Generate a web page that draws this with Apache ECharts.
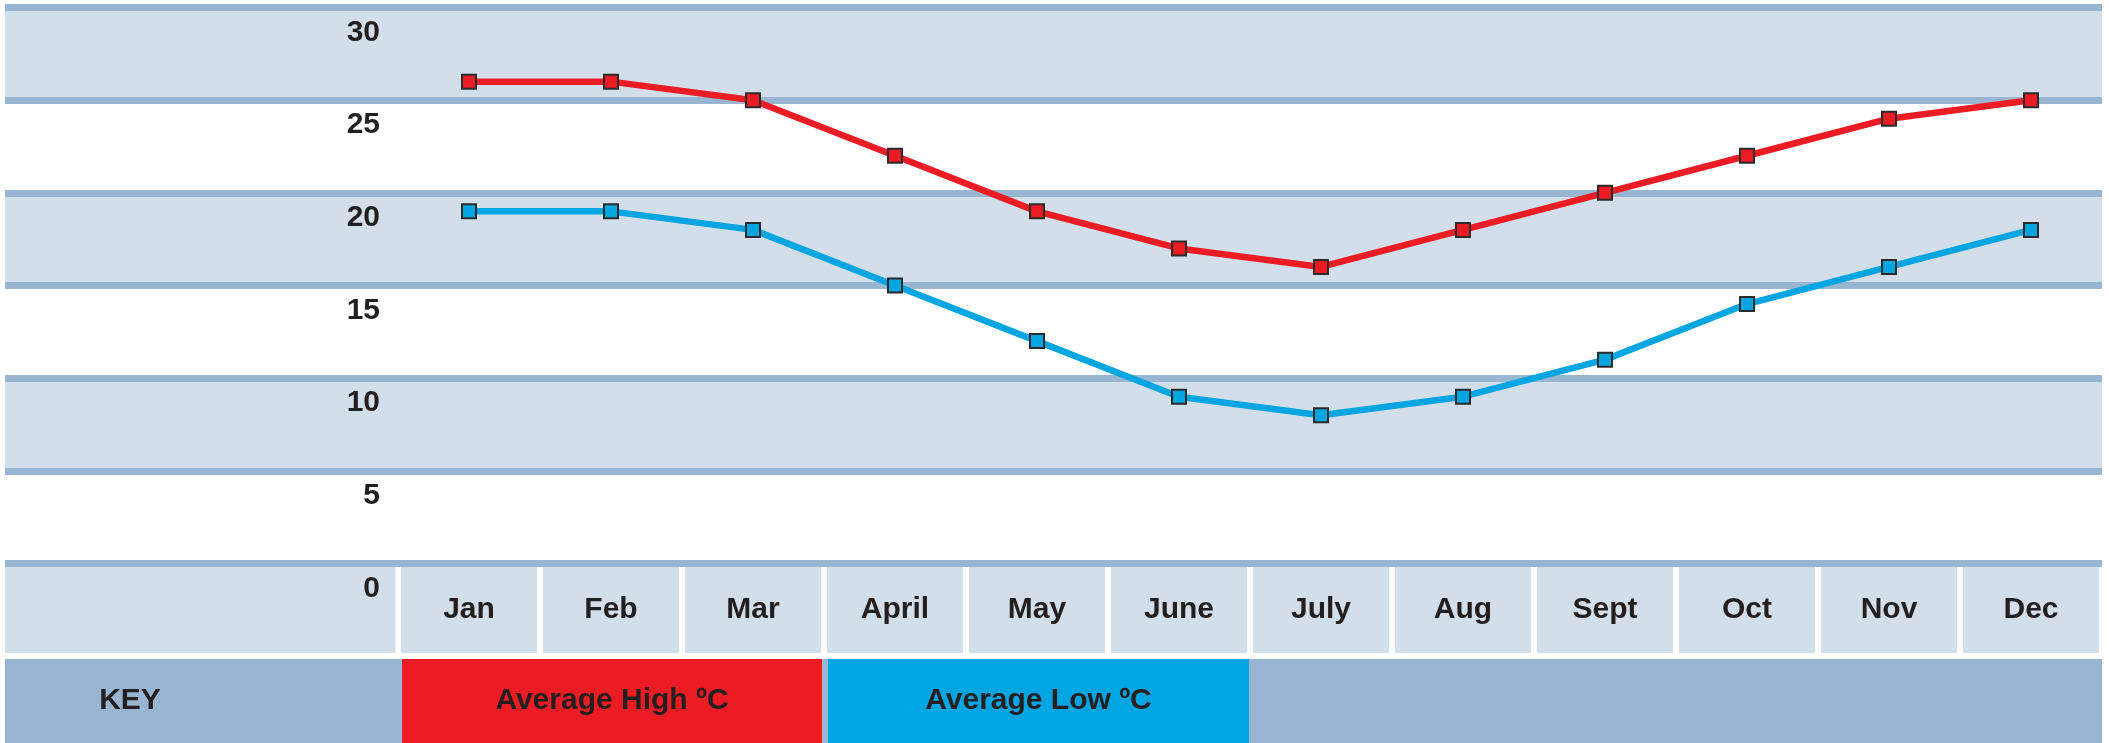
<!DOCTYPE html>
<html>
<head>
<meta charset="utf-8">
<script src="https://cdn.jsdelivr.net/npm/echarts@6/dist/echarts.min.js"></script>
<style>
html,body{margin:0;padding:0;background:#fff;}
#chart{width:2109px;height:743px;}
</style>
</head>
<body>
<div id="chart"></div>
<script>
const months = ['Jan','Feb','Mar','April','May','June','July','Aug','Sept','Oct','Nov','Dec'];
const avgHigh = [26,26,25,22,19,17,16,18,20,22,24,25];
const avgLow = [19,19,18,15,12,9,8,9,11,14,16,18];
const yMin = 0, yMax = 30, yStep = 5;
const seriesNames = ['Average High ºC', 'Average Low ºC'];
const keyLabel = 'KEY';

const FONT = '"Liberation Sans", Arial, sans-serif';
const TEXT = '#231f20';
const LIGHT = '#d2dee9';
const STEEL = '#98b6d1';
const RED = '#ed1c24';
const BLUE = '#00a5e1';

const chart = echarts.init(document.getElementById('chart'));
const gridBase = {top: 7.5, bottom: 179.5, right: 7, containLabel: false, outerBoundsMode: 'none'};
const option = {
  animation: false,
  backgroundColor: '#ffffff',
  grid: [
    Object.assign({left: 5}, gridBase),
    Object.assign({left: 398}, gridBase)
  ],
  xAxis: [
    {type: 'value', gridIndex: 0, show: false, min: 0, max: 1},
    {
      type: 'category', gridIndex: 1, data: months, boundaryGap: true,
      axisLine: {show: false}, axisTick: {show: false}, splitLine: {show: false},
      axisLabel: {
        interval: 0, margin: 46.5, verticalAlign: 'middle', align: 'center',
        fontSize: 30, fontWeight: 'bold', color: TEXT, fontFamily: FONT,
        backgroundColor: LIGHT, width: 136, height: 86, lineHeight: 86
      }
    }
  ],
  yAxis: [
    {
      type: 'value', gridIndex: 0, min: yMin, max: yMax, interval: yStep,
      axisLine: {show: false}, axisTick: {show: false},
      splitLine: {show: true, showMinLine: true, showMaxLine: true, lineStyle: {color: STEEL, width: 7}},
      splitArea: {show: true, areaStyle: {color: ['#ffffff', LIGHT]}},
      axisLabel: {
        showMinLabel: true, showMaxLabel: true,
        align: 'right', margin: -375, verticalAlign: 'top', lineHeight: 50,
        fontSize: 30, fontWeight: 'bold', color: TEXT, fontFamily: FONT
      }
    },
    {type: 'value', gridIndex: 1, min: yMin, max: yMax, interval: yStep, show: false,
     splitLine: {show: false}}
  ],
  legend: {
    left: 397, top: 659, padding: 0, itemGap: 1, itemWidth: 0, itemHeight: 84,
    icon: 'rect', selectedMode: false,
    itemStyle: {color: 'transparent', borderWidth: 0, opacity: 0},
    lineStyle: {width: 0, opacity: 0},
    data: seriesNames,
    formatter: function (name) { return '{' + (name === seriesNames[0] ? 'h' : 'l') + '|' + name + '}'; },
    textStyle: {
      fontSize: 30, fontWeight: 'bold', color: TEXT, fontFamily: FONT,
      rich: {
        h: {backgroundColor: RED, width: 420, height: 84, lineHeight: 84, align: 'center',
            fontSize: 30, fontWeight: 'bold', color: TEXT, fontFamily: FONT},
        l: {backgroundColor: BLUE, width: 421, height: 84, lineHeight: 84, align: 'center',
            fontSize: 30, fontWeight: 'bold', color: TEXT, fontFamily: FONT}
      }
    }
  },
  graphic: [
    {type: 'rect', z: -10, shape: {x: 5, y: 567, width: 390.5, height: 86}, style: {fill: LIGHT}},
    {type: 'rect', z: -10, shape: {x: 5, y: 659, width: 2097, height: 84}, style: {fill: STEEL}},
    {type: 'text', z: 10, x: 130, y: 701,
     style: {text: keyLabel, fill: TEXT, font: 'bold 30px ' + FONT, textAlign: 'center', textVerticalAlign: 'middle'}}
  ],
  series: [
    {
      name: seriesNames[0], type: 'line', xAxisIndex: 1, yAxisIndex: 1, data: avgHigh,
      symbol: 'rect', symbolSize: 14, showAllSymbol: true,
      lineStyle: {color: RED, width: 6.5},
      itemStyle: {color: RED, borderColor: '#2b2b2b', borderWidth: 2},
      emphasis: {disabled: true}
    },
    {
      name: seriesNames[1], type: 'line', xAxisIndex: 1, yAxisIndex: 1, data: avgLow,
      symbol: 'rect', symbolSize: 14, showAllSymbol: true,
      lineStyle: {color: BLUE, width: 6.5},
      itemStyle: {color: BLUE, borderColor: '#2b2b2b', borderWidth: 2},
      emphasis: {disabled: true}
    }
  ]
};
chart.setOption(option);
</script>
</body>
</html>
